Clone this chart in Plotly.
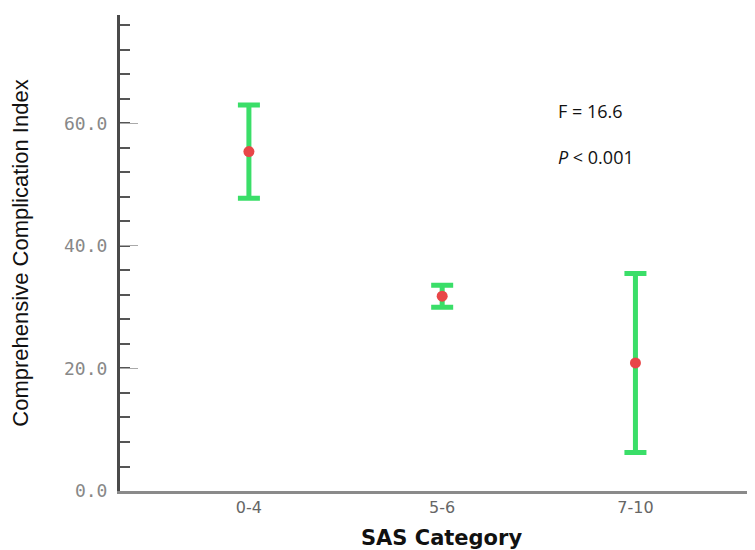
import plotly.graph_objects as go

categories = ["0-4", "5-6", "7-10"]
means = [55.4, 31.8, 20.9]
upper = [63.0, 33.6, 35.5]
lower = [47.8, 30.0, 6.3]
y_tickvals = [0, 20, 40, 60]
y_ticktext = ["0.0", "20.0", "40.0", "60.0"]
stat_lines = ["F = 16.6", "<i>P</i> < 0.001"]

err_plus = [u - m for u, m in zip(upper, means)]
err_minus = [m - l for m, l in zip(means, lower)]

green = "rgb(58,222,104)"
red = "rgb(232,70,72)"

fig = go.Figure()
fig.add_trace(go.Scatter(
    x=categories, y=means, mode="markers",
    marker=dict(color=red, size=11, symbol="circle", line=dict(width=0)),
    error_y=dict(type="data", symmetric=False, array=err_plus, arrayminus=err_minus,
                 color=green, thickness=5, width=11),
    showlegend=False,
))

for txt, yv in zip(stat_lines, [62.0, 54.5]):
    fig.add_annotation(x=1.59, y=yv, xref="x", yref="y", text=txt, showarrow=False,
                       xanchor="left", yanchor="middle",
                       font=dict(family="Open Sans", size=18, color="#111"))

fig.update_layout(
    width=755, height=550,
    margin=dict(l=112, r=0, t=7, b=67),
    plot_bgcolor="white", paper_bgcolor="white",
    xaxis=dict(
        type="category", range=[-0.667, 2.66], automargin=False,
        showline=True, linecolor="#8a8a8a", linewidth=3,
        showgrid=False, zeroline=False, ticks="",
        tickfont=dict(family="DejaVu Sans", size=16, color="#666"),
        ticklabelstandoff=0,
        title=dict(text="<b>SAS Category</b>", standoff=15,
                   font=dict(family="DejaVu Sans", size=21, color="#111")),
    ),
    yaxis=dict(
        range=[0, 77.7], tickvals=y_tickvals, ticktext=y_ticktext, automargin=False,
        showline=True, linecolor="#4a4a4a", linewidth=3,
        showgrid=False, zeroline=False,
        ticks="inside", ticklen=18, tickwidth=1, tickcolor="#aaaaaa",
        minor=dict(dtick=4, tick0=0, ticks="inside", ticklen=10, tickwidth=2, tickcolor="#555"),
        tickfont=dict(family="DejaVu Sans Mono", size=18, color="#888"),
        ticklabelstandoff=6,
        title=dict(text="Comprehensive Complication Index", standoff=32,
                   font=dict(family="Liberation Sans", size=22, color="#111")),
    ),
)

fig.write_html("out.html")
